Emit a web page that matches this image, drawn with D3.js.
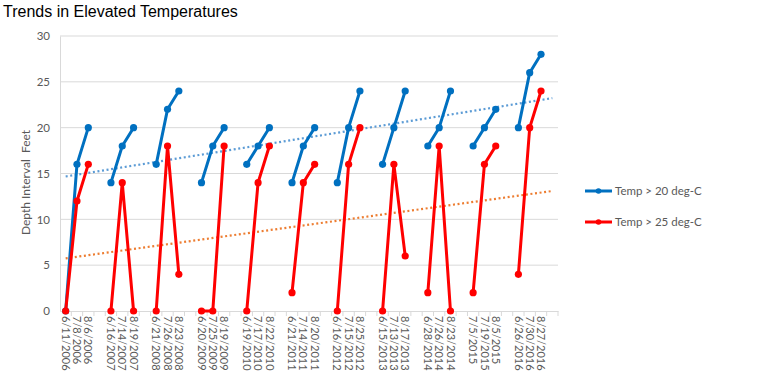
<!DOCTYPE html>
<html>
<head>
<meta charset="utf-8">
<script src="https://cdn.jsdelivr.net/npm/d3@7"></script>
<style>
  body { margin: 0; background: #fff; }
  svg { display: block; }
</style>
</head>
<body>
<figure id="line" style="margin:0"></figure>
<script>
// categories (blank slot after each season)
const categories = [
  "6/11/2006", "7/8/2006", "8/6/2006", "",
  "6/16/2007", "7/14/2007", "8/19/2007", "",
  "6/21/2008", "7/26/2008", "8/23/2008", "",
  "6/20/2009", "7/25/2009", "8/19/2009", "",
  "6/19/2010", "7/17/2010", "8/22/2010", "",
  "6/21/2011", "7/14/2011", "8/20/2011", "",
  "6/16/2012", "7/15/2012", "8/25/2012", "",
  "6/15/2013", "7/13/2013", "8/17/2013", "",
  "6/28/2014", "7/26/2014", "8/23/2014", "",
  "7/5/2015", "7/19/2015", "8/5/2015", "",
  "6/26/2016", "7/30/2016", "8/27/2016", ""
];
const temp20 = [
  0, 16, 20, null, 14, 18, 20, null, 16, 22, 24, null,
  14, 18, 20, null, 16, 18, 20, null, 14, 18, 20, null,
  14, 20, 24, null, 16, 20, 24, null, 18, 20, 24, null,
  18, 20, 22, null, 20, 26, 28, null
];
const temp25 = [
  0, 12, 16, null, 0, 14, 0, null, 0, 18, 4, null,
  0, 0, 18, null, 0, 14, 18, null, 2, 14, 16, null,
  0, 16, 20, null, 0, 16, 6, null, 2, 18, 0, null,
  2, 16, 18, null, 4, 20, 24, null
];
const yTicks = [0, 5, 10, 15, 20, 25, 30];
const seriesNames = ["Temp > 20 deg-C", "Temp > 25 deg-C"];

const W = 758, H = 390;
const margin = { top: 36, right: 200, bottom: 79, left: 60 };
const width = W - margin.left - margin.right;
const height = H - margin.top - margin.bottom;
const font = "Lato, 'Open Sans', sans-serif";
const textColor = "#595959";

const svg = d3.select("figure#line")
  .append("svg")
  .attr("width", W)
  .attr("height", H);

svg.append("text")
  .attr("x", 3)
  .attr("y", 17)
  .attr("font-family", "'Liberation Sans', Arial, sans-serif")
  .attr("font-size", 16)
  .attr("fill", "#000")
  .text("Trends in Elevated Temperatures");

const g = svg.append("g")
  .attr("transform", "translate(" + margin.left + "," + margin.top + ")");

const idx = d3.range(categories.length);
const x = d3.scaleBand().domain(idx).range([0, width]).padding(0);
const cx = i => x(i) + x.bandwidth() / 2;
const y = d3.scaleLinear().domain([0, 30]).range([height, 0]);

// gridlines
g.append("g")
  .selectAll("line")
  .data(yTicks.slice(1))
  .enter()
  .append("line")
  .attr("x1", 0).attr("x2", width)
  .attr("y1", d => y(d)).attr("y2", d => y(d))
  .attr("stroke", "#d9d9d9")
  .attr("stroke-width", 1);

// y axis
const yAxis = g.append("g")
  .call(d3.axisLeft(y).tickValues(yTicks).tickSize(0).tickPadding(10));
yAxis.select(".domain").attr("stroke", "#d9d9d9");
yAxis.selectAll("text")
  .attr("font-family", font)
  .attr("font-size", 11.5)
  .attr("fill", textColor);

// x axis
const xAxis = g.append("g")
  .attr("transform", "translate(0," + height + ")")
  .call(d3.axisBottom(x).tickSize(0).tickFormat(i => categories[i]));
xAxis.select(".domain").attr("stroke", "#d9d9d9");
xAxis.selectAll("text")
  .attr("font-family", font)
  .attr("font-size", 11)
  .attr("fill", textColor)
  .attr("transform", "rotate(90)")
  .attr("text-anchor", "start")
  .attr("x", 5)
  .attr("y", 0)
  .attr("dy", "0.35em");

// tick marks between categories
xAxis.append("g")
  .selectAll("line")
  .data(idx.slice(1).concat([categories.length]))
  .enter()
  .append("line")
  .attr("x1", i => i < categories.length ? x(i) : width)
  .attr("x2", i => i < categories.length ? x(i) : width)
  .attr("y1", 0).attr("y2", 5)
  .attr("stroke", "#d9d9d9");

// y title
svg.append("text")
  .attr("transform", "translate(30," + (margin.top + height / 2 + 9) + ") rotate(-90)")
  .attr("text-anchor", "middle")
  .attr("font-family", font)
  .attr("font-size", 12)
  .attr("fill", textColor)
  .style("white-space", "pre")
  .text("Depth Interval  Feet");

// linear trend over category index (blanks skipped)
function trend(vals) {
  const pts = vals.map((v, i) => [i + 1, v]).filter(p => p[1] != null);
  const mx = d3.mean(pts, p => p[0]);
  const my = d3.mean(pts, p => p[1]);
  const sxy = d3.sum(pts, p => (p[0] - mx) * (p[1] - my));
  const sxx = d3.sum(pts, p => (p[0] - mx) * (p[0] - mx));
  const b = sxy / sxx;
  return i => my + b * (i + 1 - mx);
}

const line = d3.line()
  .defined(d => d.v != null)
  .x(d => cx(d.i))
  .y(d => y(d.v));

const series = [
  { name: seriesNames[0], values: temp20, color: "#0070c0", trendColor: "#5b9bd5" },
  { name: seriesNames[1], values: temp25, color: "#ff0000", trendColor: "#ed7d31" }
];

series.forEach(s => {
  const f = trend(s.values);
  const ends = [0, categories.length - 1];
  g.append("line")
    .attr("x1", cx(ends[0])).attr("y1", y(f(ends[0])))
    .attr("x2", cx(ends[1])).attr("y2", y(f(ends[1])))
    .attr("stroke", s.trendColor)
    .attr("stroke-width", 2.2)
    .attr("stroke-dasharray", "2,2.6");
});

series.forEach(s => {
  const pts = s.values.map((v, i) => ({ i: i, v: v }));
  g.append("path")
    .datum(pts)
    .attr("fill", "none")
    .attr("stroke", s.color)
    .attr("stroke-width", 3)
    .attr("stroke-linejoin", "round")
    .attr("d", line);
  g.selectAll(null)
    .data(pts.filter(d => d.v != null))
    .enter()
    .append("circle")
    .attr("cx", d => cx(d.i))
    .attr("cy", d => y(d.v))
    .attr("r", 3.6)
    .attr("fill", s.color);
});

// legend
const legend = svg.append("g").attr("transform", "translate(585,191)");
series.forEach((s, k) => {
  const row = legend.append("g").attr("transform", "translate(0," + (k * 31) + ")");
  row.append("line")
    .attr("x1", 0).attr("x2", 27)
    .attr("stroke", s.color).attr("stroke-width", 3);
  row.append("circle").attr("cx", 13.5).attr("r", 2.8).attr("fill", s.color);
  row.append("text")
    .attr("x", 30).attr("dy", "0.35em")
    .attr("font-family", font)
    .attr("font-size", 11.5)
    .attr("fill", textColor)
    .text(s.name);
});
</script>
</body>
</html>
